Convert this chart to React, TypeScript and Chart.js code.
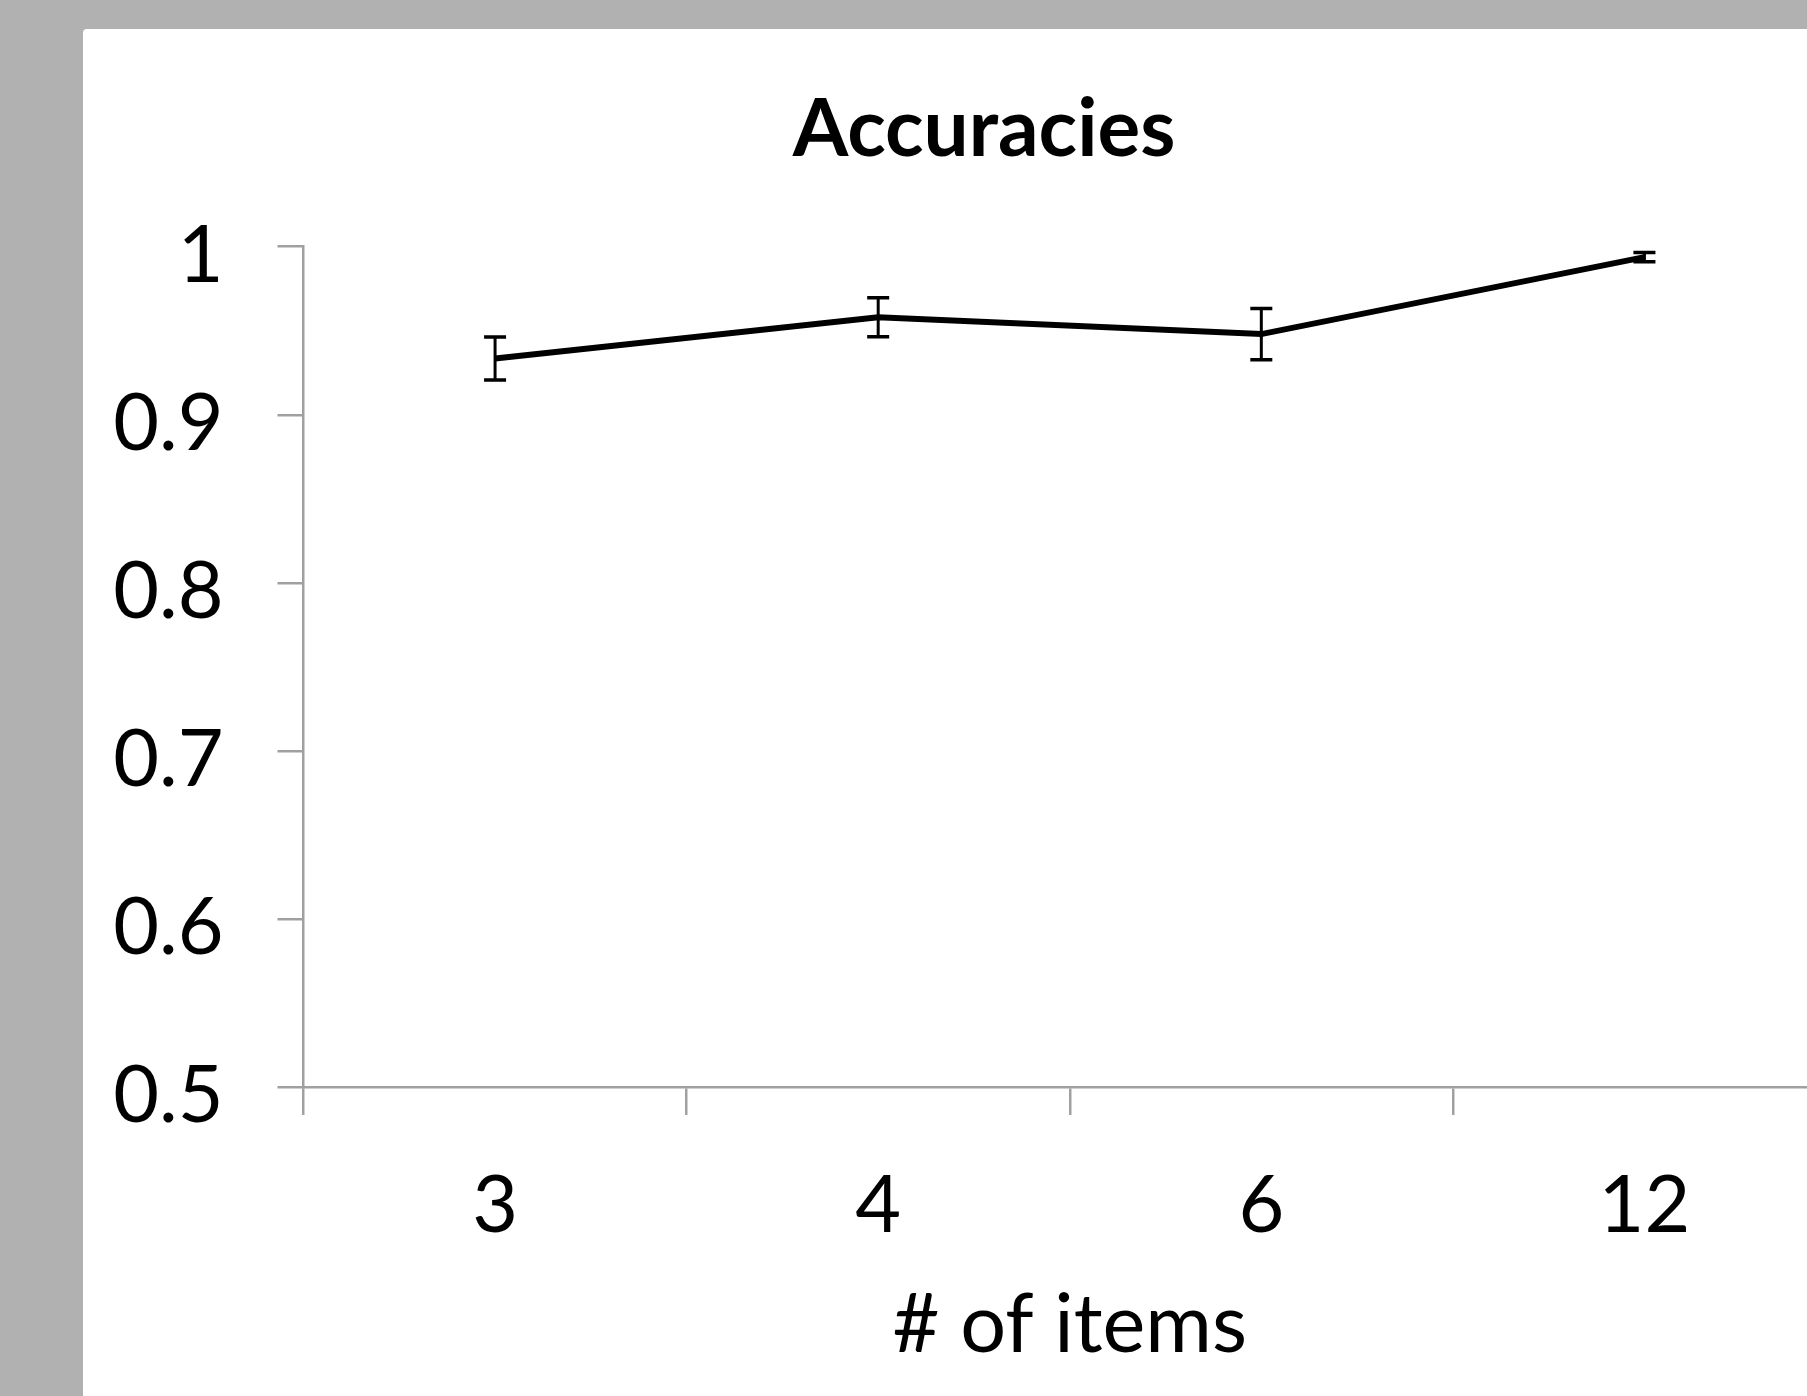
import React, { useEffect, useRef } from "react";
import { Chart, registerables } from "chart.js";

Chart.register(...registerables);

const categories = ["3", "4", "6", "12"];
const accuracy = [0.9335, 0.958, 0.948, 0.9938];
const errorMargins = [0.0128, 0.0116, 0.0153, 0.0027];
const yTickValues = [0.5, 0.6, 0.7, 0.8, 0.9, 1];
const yTickLabels = ["0.5", "0.6", "0.7", "0.8", "0.9", "1"];
const chartTitle = "Accuracies";
const xAxisTitle = "# of items";

const AXIS_COLOR = "#a0a0a0";
const FONT = "Lato";

const errorBarPlugin = {
  id: "errorBars",
  afterDatasetsDraw(chart: any) {
    const { ctx } = chart;
    const x = chart.scales.x;
    const y = chart.scales.y;
    ctx.save();
    ctx.strokeStyle = "#000";
    accuracy.forEach((v, i) => {
      const e = errorMargins[i];
      const px = x.getPixelForValue(i);
      const yt = y.getPixelForValue(v + e);
      const yb = y.getPixelForValue(v - e);
      ctx.lineWidth = 3;
      ctx.beginPath();
      ctx.moveTo(px, yt);
      ctx.lineTo(px, yb);
      ctx.stroke();
      ctx.lineWidth = 3.5;
      ctx.beginPath();
      ctx.moveTo(px - 11, yt);
      ctx.lineTo(px + 11, yt);
      ctx.moveTo(px - 11, yb);
      ctx.lineTo(px + 11, yb);
      ctx.stroke();
    });
    ctx.restore();
  },
};

// Let the y-axis tick labels extend into the left padding without being clipped.
const labelAreaPlugin = {
  id: "labelArea",
  afterLayout(chart: any) {
    if (chart.scales.y) chart.scales.y.left = 0;
  },
};

export default function App() {
  const ref = useRef<HTMLCanvasElement | null>(null);

  useEffect(() => {
    if (!ref.current) return;
    const chart = new Chart(ref.current, {
      type: "line",
      data: {
        labels: categories,
        datasets: [
          {
            data: accuracy,
            borderColor: "#000",
            borderWidth: 6,
            pointRadius: 0,
            tension: 0,
            fill: false,
          },
        ],
      },
      plugins: [errorBarPlugin, labelAreaPlugin],
      options: {
        animation: false,
        responsive: false,
        devicePixelRatio: 1,
        layout: { padding: { left: 49, right: 51, top: 0, bottom: 0 } },
        plugins: {
          legend: { display: false },
          tooltip: { enabled: false },
          title: {
            display: true,
            text: chartTitle,
            color: "#000",
            font: { family: FONT, size: 80, weight: "bold", lineHeight: 1.2 },
            padding: { top: 53, bottom: 68.7 },
          },
        },
        scales: {
          x: {
            type: "category",
            offset: true,
            grid: {
              offset: true,
              drawOnChartArea: false,
              drawTicks: true,
              tickLength: 28,
              color: AXIS_COLOR,
              lineWidth: 2.5,
            },
            border: { display: true, color: AXIS_COLOR, width: 2.5 },
            ticks: {
              color: "#000",
              font: { family: FONT, size: 79, lineHeight: 1.2 },
              padding: 44,
              maxRotation: 0,
              autoSkip: false,
            },
            title: {
              display: true,
              text: xAxisTitle,
              color: "#000",
              font: { family: FONT, size: 81, lineHeight: 1.2 },
              padding: { top: 0, bottom: 22 },
            },
            afterFit(s: any) {
              s.height = 309;
            },
          },
          y: {
            min: 0.5,
            max: 1,
            afterBuildTicks(s: any) {
              s.ticks = yTickValues.map((v) => ({ value: v }));
            },
            ticks: {
              callback: (_v: any, i: number) => yTickLabels[i],
              color: "#000",
              font: { family: FONT, size: 79, lineHeight: 1.2 },
              padding: 54,
              labelOffset: 10,
            },
            grid: {
              drawOnChartArea: false,
              drawTicks: true,
              tickLength: 26,
              color: AXIS_COLOR,
              lineWidth: 2.5,
            },
            border: { display: true, color: AXIS_COLOR, width: 2.5 },
            afterFit(s: any) {
              s.width = 171.5;
            },
          },
        },
      } as any,
    });
    return () => chart.destroy();
  }, []);

  return (
    <div
      style={{
        position: "fixed",
        left: 0,
        top: 0,
        width: 1807,
        height: 1396,
        overflow: "hidden",
        background: "#b1b1b1",
      }}
    >
      <div
        style={{
          position: "absolute",
          left: 83,
          top: 29,
          width: 1804,
          height: 1367,
          background: "#fff",
          borderTopLeftRadius: 4,
        }}
      >
        <canvas ref={ref} width={1804} height={1367} style={{ display: "block", width: 1804, height: 1367 }} />
      </div>
    </div>
  );
}
